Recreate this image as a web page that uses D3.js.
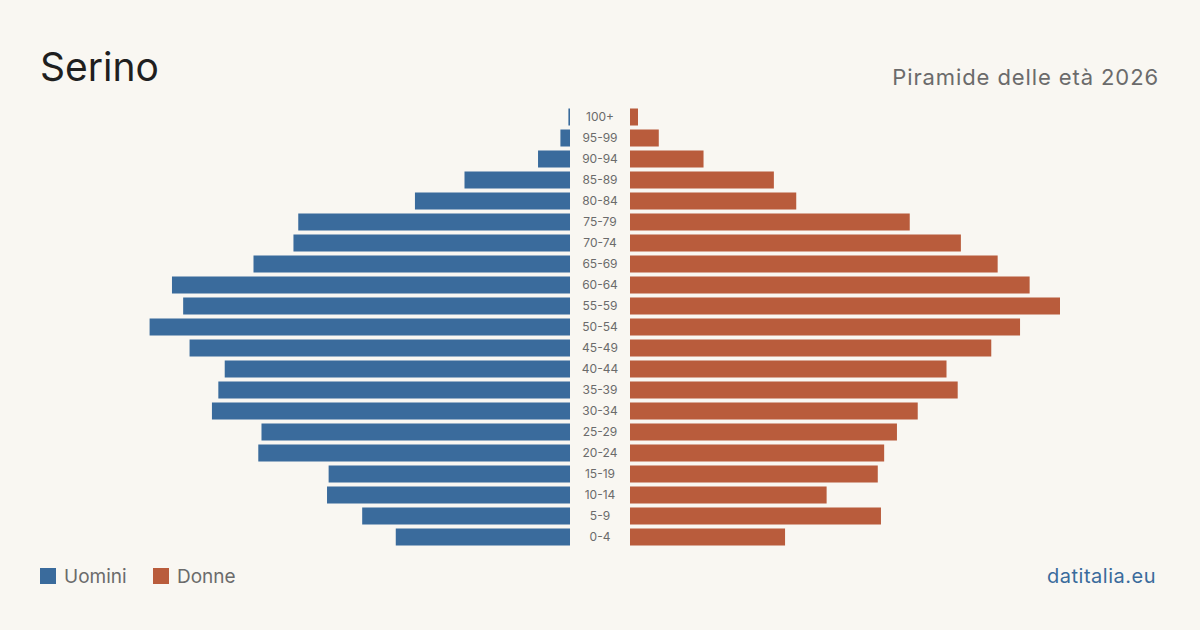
<!DOCTYPE html>
<html>
<head>
<meta charset="utf-8">
<script src="https://cdn.jsdelivr.net/npm/d3@7"></script>
<style>
  html, body { margin: 0; padding: 0; background: #f9f7f2; }
  svg { display: block; font-family: Inter, "Noto Sans", sans-serif; }
</style>
</head>
<body>
<div id="chart"></div>
<script>
// age classes, oldest first (top of pyramid)
const ageGroups = ["100+", "95-99", "90-94", "85-89", "80-84", "75-79", "70-74", "65-69", "60-64", "55-59",
  "50-54", "45-49", "40-44", "35-39", "30-34", "25-29", "20-24", "15-19", "10-14", "5-9", "0-4"];
// residents per class
const men = [1, 6, 20, 66, 97, 170, 173, 198, 249, 242, 263, 238, 216, 220, 224, 193, 195, 151, 152, 130, 109];
const women = [5, 18, 46, 90, 104, 175, 207, 230, 250, 269, 244, 226, 198, 205, 180, 167, 159, 155, 123, 157, 97];

const BLUE = "#3a6b9c";
const ORANGE = "#b95c3c";
const width = 1200, height = 630;

const svg = d3.select("#chart").append("svg")
    .attr("width", width)
    .attr("height", height);

svg.append("rect").attr("width", width).attr("height", height).attr("fill", "#f9f7f2");

// titles
svg.append("text")
    .attr("x", 40).attr("y", 81)
    .attr("font-size", 39)
    .attr("fill", "#1f1f1f")
    .text("Serino");

svg.append("text")
    .attr("x", 1159).attr("y", 85)
    .attr("text-anchor", "end")
    .attr("font-size", 22)
    .attr("letter-spacing", 0.9)
    .attr("fill", "#6b6b6b")
    .text("Piramide delle età 2026");

// scales
const maxVal = d3.max(men.concat(women));
const xLen = d3.scaleLinear().domain([0, maxVal]).range([0, 430]);
const y = d3.scaleBand().domain(ageGroups).range([106.5, 547.5]).paddingInner(0.19).paddingOuter(0.095);

const menRight = 570, womenLeft = 630, labelX = 600;

svg.append("g").selectAll("rect")
    .data(ageGroups)
    .join("rect")
    .attr("x", (d, i) => menRight - xLen(men[i]))
    .attr("y", d => y(d))
    .attr("width", (d, i) => xLen(men[i]))
    .attr("height", y.bandwidth())
    .attr("fill", BLUE);

svg.append("g").selectAll("rect")
    .data(ageGroups)
    .join("rect")
    .attr("x", womenLeft)
    .attr("y", d => y(d))
    .attr("width", (d, i) => xLen(women[i]))
    .attr("height", y.bandwidth())
    .attr("fill", ORANGE);

svg.append("g").selectAll("text")
    .data(ageGroups)
    .join("text")
    .attr("x", labelX)
    .attr("y", d => y(d) + y.bandwidth() / 2)
    .attr("dy", "0.35em")
    .attr("text-anchor", "middle")
    .attr("font-size", 12)
    .attr("fill", "#6b6b6b")
    .text(d => d);

// legend
const legend = [{ label: "Uomini", color: BLUE, x: 40 }, { label: "Donne", color: ORANGE, x: 153 }];
const lg = svg.append("g").selectAll("g").data(legend).join("g")
    .attr("transform", d => `translate(${d.x},568)`);
lg.append("rect").attr("width", 16).attr("height", 16).attr("fill", d => d.color);
lg.append("text")
    .attr("x", 24).attr("y", 15)
    .attr("font-size", 19)
    .attr("fill", "#6b6b6b")
    .text(d => d.label);

svg.append("text")
    .attr("x", 1156).attr("y", 583)
    .attr("text-anchor", "end")
    .attr("font-size", 20)
    .attr("letter-spacing", 0.5)
    .attr("fill", BLUE)
    .text("datitalia.eu");
</script>
</body>
</html>
